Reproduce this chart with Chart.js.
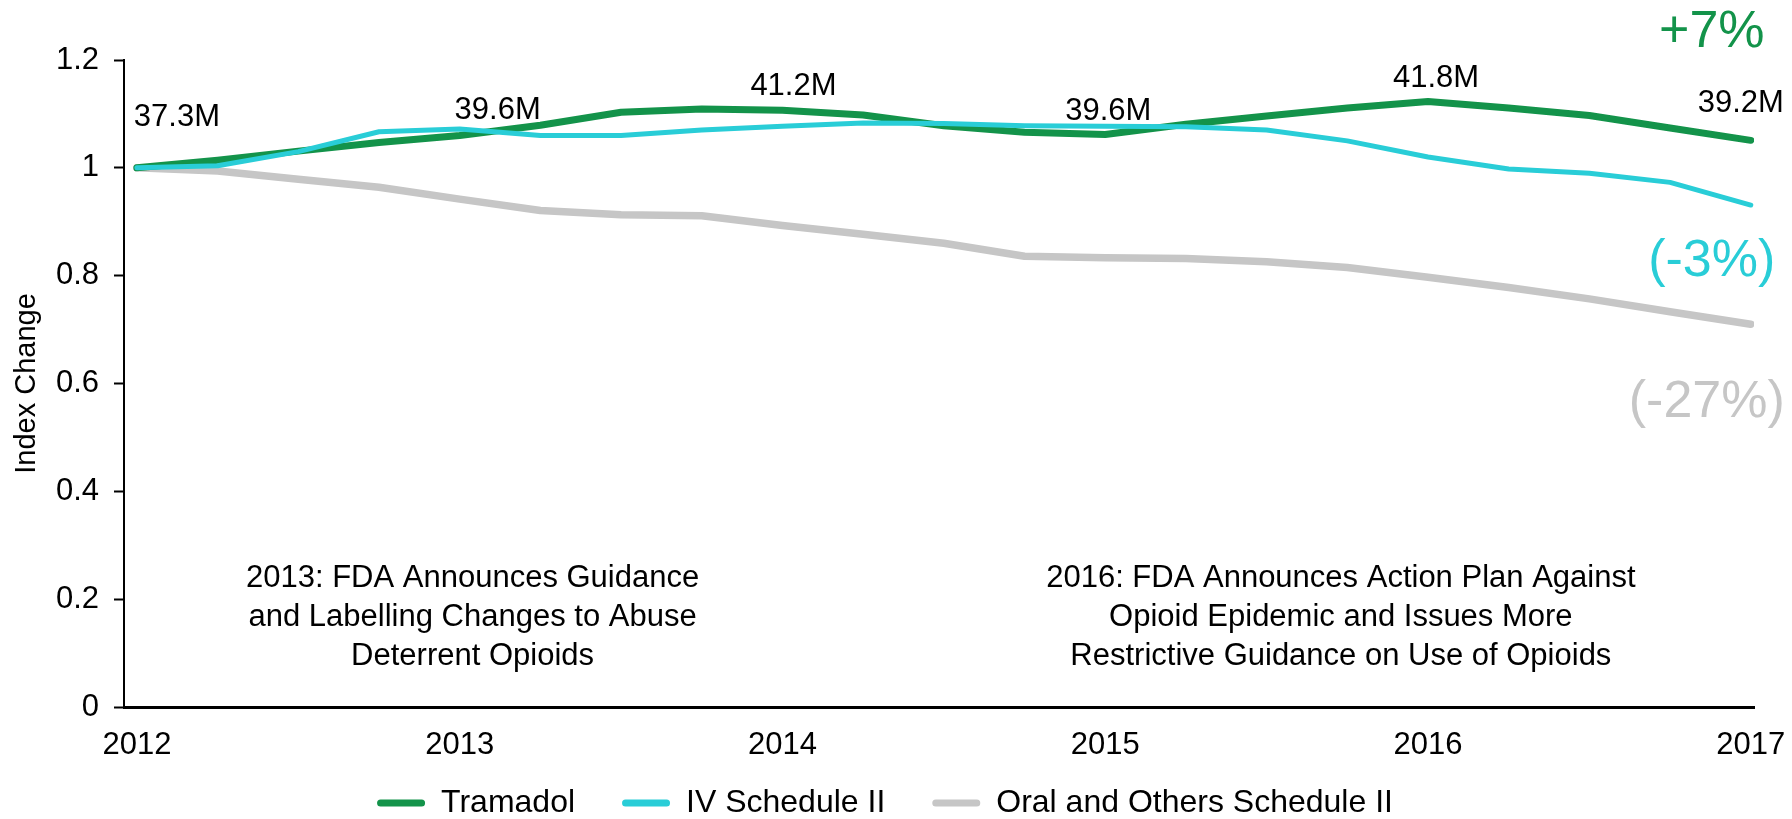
<!DOCTYPE html>
<html lang="en">
<head>
  <meta charset="UTF-8">
  <title>Opioid Prescriptions Index Change, 2012-2017</title>
  <script src="https://cdn.jsdelivr.net/npm/chart.js"></script>
  <style>
    html, body {
      margin: 0;
      padding: 0;
      background: #fff;
    }
    #wrap {
      width: 1792px;
      height: 819px;
      position: relative;
    }
  </style>
</head>
<body>
  <div id="wrap"><canvas id="indexChart"></canvas></div>

  <script>
    // quarterly points, 2012 Q1 = 1.0
    const quarters = [2012, 2012.25, 2012.5, 2012.75, 2013, 2013.25, 2013.5, 2013.75, 2014, 2014.25, 2014.5,
                      2014.75, 2015, 2015.25, 2015.5, 2015.75, 2016, 2016.25, 2016.5, 2016.75, 2017];
    const tramadol = [1.000, 1.014, 1.031, 1.047, 1.060, 1.079, 1.103, 1.109, 1.107, 1.098, 1.078,
                      1.066, 1.062, 1.081, 1.096, 1.111, 1.123, 1.111, 1.097, 1.074, 1.051];
    const ivScheduleII = [1.000, 1.004, 1.030, 1.067, 1.072, 1.060, 1.060, 1.070, 1.077, 1.083, 1.082,
                          1.078, 1.077, 1.076, 1.070, 1.050, 1.020, 0.998, 0.990, 0.973, 0.931];
    const oralScheduleII = [1.000, 0.994, 0.979, 0.964, 0.942, 0.921, 0.913, 0.911, 0.893, 0.877, 0.860,
                            0.836, 0.833, 0.832, 0.826, 0.815, 0.797, 0.778, 0.757, 0.733, 0.710];

    const seriesNames = ['Tramadol', 'IV Schedule II', 'Oral and Others Schedule II'];
    const yearTicks = [2012, 2013, 2014, 2015, 2016, 2017];
    const yTicks = [0, 0.2, 0.4, 0.6, 0.8, 1, 1.2];

    // Tramadol annual volumes shown above the line
    const totalYears = [2012, 2013, 2014, 2015, 2016, 2017];
    const totalLabels = ['37.3M', '39.6M', '41.2M', '39.6M', '41.8M', '39.2M'];
    const changeLabels = ['+7%', '(-3%)', '(-27%)'];

    const noteLeft = ['2013: FDA Announces Guidance', 'and Labelling Changes to Abuse', 'Deterrent Opioids'];
    const noteRight = ['2016: FDA Announces Action Plan Against', 'Opioid Epidemic and Issues More',
                       'Restrictive Guidance on Use of Opioids'];

    const GREEN = '#13934A';
    const CYAN = '#29CDD7';
    const GREY = '#C6C6C6';
    const FONT = "'Liberation Sans', Arial, sans-serif";

    Chart.defaults.font.family = FONT;
    Chart.defaults.color = '#000';

    const toPoints = vals => quarters.map((q, i) => ({ x: q, y: vals[i] }));

    const annotate = {
      id: 'annotate',
      afterDatasetsDraw(chart, args, opts) {
        const { ctx } = chart;
        const xs = chart.scales.x;
        const ys = chart.scales.y;
        ctx.save();
        ctx.textAlign = 'center';
        ctx.textBaseline = 'middle';

        // annual totals
        ctx.font = `31px ${FONT}`;
        ctx.fillStyle = '#000';
        totalYears.forEach((yr, i) => {
          const idx = quarters.indexOf(yr);
          const [dx, dy] = opts.totalOffsets[i];
          ctx.fillText(totalLabels[i], xs.getPixelForValue(yr) + dx, ys.getPixelForValue(tramadol[idx]) + dy);
        });

        // change since 2012, next to each line end
        ctx.font = `52px ${FONT}`;
        chart.data.datasets.forEach((ds, i) => {
          const last = ds.data[ds.data.length - 1];
          const [dx, dy] = opts.changeOffsets[i];
          ctx.fillStyle = ds.borderColor;
          ctx.fillText(changeLabels[i], xs.getPixelForValue(last.x) + dx, ys.getPixelForValue(last.y) + dy);
        });

        // event notes
        ctx.font = `31px ${FONT}`;
        ctx.fillStyle = '#000';
        [[noteLeft, opts.noteLeftAt], [noteRight, opts.noteRightAt]].forEach(([lines, at]) => {
          const cx = xs.getPixelForValue(at.x);
          const top = ys.getPixelForValue(at.y);
          lines.forEach((t, j) => ctx.fillText(t, cx, top + j * opts.noteLineHeight));
        });
        ctx.restore();
      }
    };

    new Chart(document.getElementById('indexChart'), {
      type: 'line',
      data: {
        datasets: [
          {
            label: seriesNames[0],
            data: toPoints(tramadol),
            borderColor: GREEN,
            backgroundColor: GREEN,
            borderWidth: 7,
            order: 1
          },
          {
            label: seriesNames[1],
            data: toPoints(ivScheduleII),
            borderColor: CYAN,
            backgroundColor: CYAN,
            borderWidth: 5,
            order: 0
          },
          {
            label: seriesNames[2],
            data: toPoints(oralScheduleII),
            borderColor: GREY,
            backgroundColor: GREY,
            borderWidth: 7.5,
            order: 2
          }
        ]
      },
      options: {
        responsive: true,
        maintainAspectRatio: false,
        animation: false,
        layout: { padding: { top: 60, right: 38, bottom: 0, left: 16 } },
        elements: {
          point: { radius: 0, hoverRadius: 0 },
          line: { tension: 0, fill: false, borderCapStyle: 'round', borderJoinStyle: 'round' }
        },
        scales: {
          x: {
            type: 'linear',
            min: 2011.96,
            max: 2017.01,
            afterBuildTicks: s => { s.ticks = yearTicks.map(v => ({ value: v })); },
            afterFit: s => {
              s.height = 33;
              s.paddingLeft = 0;
              s.paddingRight = 0;
              s._computeLabelArea = () => undefined; // let year labels spill below the short axis box
            },
            grid: { display: false, drawOnChartArea: false, drawTicks: false },
            border: { display: true, color: '#000', width: 3 },
            ticks: {
              font: { size: 31 },
              color: '#000',
              padding: 20,
              maxRotation: 0,
              autoSkip: false,
              callback: v => String(v)
            }
          },
          y: {
            min: 0,
            max: 1.2,
            afterBuildTicks: s => { s.ticks = yTicks.map(v => ({ value: v })); },
            afterFit: s => { s.width = 108; s.paddingTop = 0; s.paddingBottom = 0; },
            grid: { drawOnChartArea: false, drawTicks: true, tickLength: 10, color: '#000', tickWidth: 2 },
            border: { display: true, color: '#000', width: 2 },
            ticks: {
              font: { size: 31 },
              color: '#000',
              padding: 15,
              callback: v => String(Number(v.toFixed(1)))
            },
            title: {
              display: true,
              text: 'Index Change',
              font: { size: 29 },
              color: '#000',
              padding: { top: -6, bottom: 0 }
            }
          }
        },
        plugins: {
          tooltip: { enabled: false },
          legend: {
            position: 'bottom',
            maxHeight: 79,
            labels: {
              boxWidth: 48,
              boxHeight: 7,
              padding: 47,
              color: '#000',
              font: { size: 32 },
              useBorderRadius: true,
              borderRadius: 3.5,
              sort: (a, b) => a.datasetIndex - b.datasetIndex,
              generateLabels: chart =>
                Chart.defaults.plugins.legend.labels.generateLabels(chart)
                  .map(item => Object.assign(item, { lineWidth: 0, borderRadius: 3.5 }))
            }
          },
          annotate: {
            totalOffsets: [[40, -50], [38, -25], [11, -24], [3, -23], [8, -23], [-10, -37]],
            changeOffsets: [[-39, -108], [-39, 57], [-44, 78]],
            noteLeftAt: { x: 2013.04, y: 0.238 },
            noteRightAt: { x: 2015.73, y: 0.238 },
            noteLineHeight: 39
          }
        }
      },
      plugins: [annotate]
    });
  </script>
</body>
</html>
